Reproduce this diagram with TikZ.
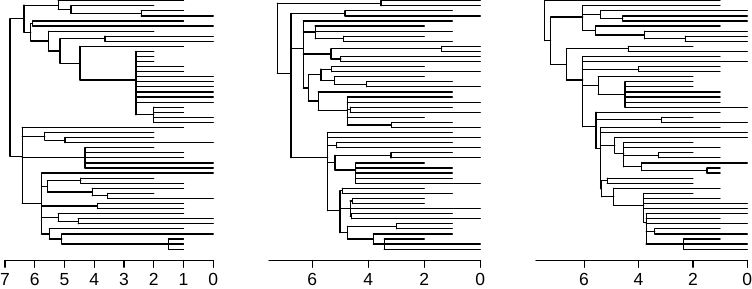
\documentclass[tikz,border=0pt]{standalone}
\usepackage{fontspec}
\setmainfont{Liberation Sans}

\tikzset{
  branch/.style={line width=1.2pt, line cap=round},
  tick label/.style={anchor=base, inner sep=0pt, font=\fontsize{17.5}{17.5}\selectfont}
}
% rows of the time axis (in leaf units)
\newcommand{\axy}{51.24}
\newcommand{\tky}{52.58}
\newcommand{\lby}{56.17}

\begin{document}
\begin{tikzpicture}[branch]
\useasboundingbox (0,0) rectangle (752pt,-289pt);

%left tree: x is time before present, y is the leaf row
\begin{scope}[shift={(213.3pt,-0.7pt)}, x=-29.76pt, y=-5.07pt]
  \foreach \v/\a/\b in {6.83/3.551/30.68, 6.36/0.875/6.227, 5.21/0/1.75, 4.78/1/2.5,
      2.42/2/3, 6.13/4.5/7.953, 6.07/4/5, 5.54/6/9.906, 5.15/7.5/12.31, 3.64/7/8,
      4.48/9/15.625, 2.6/10/22.5, 2/21/24, 6.42/25/39.975, 5.66/26/27.5, 4.98/27/28,
      4.31/29/33, 5.77/34/46, 5.57/35.5/37.75, 4.45/35/36, 4.07/37/38.5, 3.55/38/39,
      3.89/40/41, 5.21/42/43.5, 4.54/43/44, 5.51/45/47, 5.09/46/48, 1.51/47/49}
    \draw (\v,\a) -- (\v,\b);
  \foreach \a/\b/\r in {6.83/6.36/3.551, 6.83/6.42/30.68,
      6.36/5.21/0.875, 6.36/6.13/6.227, 5.21/1/0, 5.21/4.78/1.75,
      4.78/2/1, 4.78/2.42/2.5, 2.42/1/2, 2.42/0/3,
      6.13/6.07/4.5, 6.07/1/4, 6.07/0/5,
      6.13/5.54/7.953, 5.54/2/6, 5.54/5.15/9.906,
      5.15/3.64/7.5, 3.64/0/7, 3.64/0/8,
      5.15/4.48/12.31, 4.48/1/9, 4.48/2.6/15.625,
      2.6/2/10, 2.6/2/11, 2.6/2/12, 2.6/1/13, 2.6/1/14,
      2.6/2/22.5, 2/1/21, 2/1/22, 2/0/23, 2/0/24,
      6.42/1/25, 6.42/5.66/26.75, 5.66/2/26, 5.66/4.98/27.5, 4.98/2/27, 4.98/0/28,
      6.42/4.31/31, 4.31/2/29, 4.31/1/30, 4.31/1/31, 4.31/0/32, 4.31/0/33,
      6.42/5.77/39.975, 5.77/0/34,
      5.77/5.57/36.625, 5.57/4.45/35.5, 4.45/2/35, 4.45/1/36,
      5.57/4.07/37.75, 4.07/1/37, 4.07/3.55/38.5, 3.55/2/38, 3.55/0/39,
      5.77/3.89/40.5, 3.89/1/40, 3.89/1/41,
      5.77/5.21/42.75, 5.21/1/42, 5.21/4.54/43.5, 4.54/0/43, 4.54/0/44,
      5.77/5.51/46, 5.51/1/45, 5.51/5.09/47, 5.09/0/46, 5.09/1.51/48,
      1.51/1/47, 1.51/1/48, 1.51/1/49}
    \draw (\a,\r) -- (\b,\r);
  \foreach \r in {15,...,20}
    \draw (2.6,\r) -- (0,\r);
  %axis
  \draw (7,\axy) -- (0,\axy);
  \foreach \t in {0,...,7} {
    \draw (\t,\axy) -- (\t,\tky);
    \node[tick label] at (\t,\lby) {\t};
  }
\end{scope}

%middle tree
\begin{scope}[shift={(480.3pt,-0.7pt)}, x=-28pt, y=-5.07pt]
  \foreach \v/\a/\b in {7.25/0.5/14.31, 3.55/0/1, 6.76/2.5/30.97, 4.83/2/3,
      6.32/4/17.2125, 5.90/5/7.5, 4.89/7/8, 5.33/9.5/11.5, 1.38/9/10, 4.98/11/12,
      6.14/14.625/19.8, 5.69/13.5/15.75, 5.31/13/14, 5.21/15/16.5, 4.06/16/17,
      5.79/18/21.6, 4.75/19/24.5, 4.65/21/22, 3.17/24/25,
      5.45/26/41.4167, 5.13/28/29, 5.19/30.5/33.4, 3.19/30/31, 4.45/32/36,
      5.01/37.5/45.75, 4.93/37/38, 4.65/39.5/42.5, 4.57/39/40, 4.60/42/43,
      4.74/44.5/47, 2.99/44/45, 3.82/46/48, 3.43/47/49}
    \draw (\v,\a) -- (\v,\b);
  \foreach \a/\b/\r in {7.25/3.55/0.5, 3.55/0/0, 3.55/0/1,
      7.25/6.76/14.31,
      6.76/4.83/2.5, 4.83/1/2, 4.83/0/3,
      6.76/6.32/9.47, 6.32/1/4,
      6.32/5.90/6.1667, 5.90/2/5, 5.90/1/6, 5.90/4.89/7.5, 4.89/2/7, 4.89/1/8,
      6.32/5.33/10.5, 5.33/1.38/9.5, 1.38/0/9, 1.38/0/10,
      5.33/4.98/11.5, 4.98/0/11, 4.98/0/12,
      6.32/6.14/17.2125,
      6.14/5.69/14.625, 5.69/5.31/13.5, 5.31/2/13, 5.31/0/14,
      5.69/5.21/15.75, 5.21/2/15, 5.21/4.06/16.5, 4.06/1/16, 4.06/0/17,
      6.14/5.79/19.8, 5.79/1/18, 5.79/4.75/21.6,
      4.75/1/19, 4.75/0/20, 4.75/4.65/21.5, 4.65/1/21, 4.65/0/22,
      4.75/2/23, 4.75/3.17/24.5, 3.17/1/24, 3.17/0/25,
      6.76/5.45/30.97,
      5.45/1/26, 5.45/0/27, 5.45/5.13/28.5, 5.13/1/28, 5.13/0/29,
      5.45/5.19/31.95, 5.19/3.19/30.5, 3.19/1/30, 3.19/0/31,
      5.19/4.45/33.4, 4.45/2/32, 4.45/1/33, 4.45/1/34, 4.45/1/35, 4.45/0/36,
      5.45/5.01/41.4167,
      5.01/4.93/37.5, 4.93/2/37, 4.93/1/38,
      5.01/4.65/41, 4.65/4.57/39.5, 4.57/2/39, 4.57/2/40, 4.65/0/41,
      4.65/4.60/42.5, 4.60/1/42, 4.60/0/43,
      5.01/4.74/45.75, 4.74/2.99/44.5, 2.99/1/44, 2.99/1/45,
      4.74/3.82/47, 3.82/1/46, 3.82/3.43/48, 3.43/2/47, 3.43/0/48, 3.43/0/49}
    \draw (\a,\r) -- (\b,\r);
  %axis
  \draw (7.55,\axy) -- (0,\axy);
  \foreach \t in {0,2,4,6} {
    \draw (\t,\axy) -- (\t,\tky);
    \node[tick label] at (\t,\lby) {\t};
  }
\end{scope}

%right tree
\begin{scope}[shift={(747.3pt,-0.7pt)}, x=-27.2pt, y=-5.07pt]
  \foreach \v/\a/\b in {7.45/0/7.886, 7.23/3.208/12.563, 6.05/1/5.875, 5.40/2/3.5,
      4.58/3/4, 5.58/5/6.75, 3.78/6/7.5, 2.28/7/8,
      6.65/9.5/15.627, 4.38/9/10, 6.05/11/24.885, 3.99/13/14, 5.48/15/18.5,
      4.50/16/21, 5.56/22/29.154, 3.16/23/24, 5.40/25/37.085, 4.87/27/30.0625,
      4.54/28/32.75, 3.26/30/31, 3.89/32/33.5, 1.48/33/34,
      5.36/35.5/38.67, 5.15/35/36, 4.91/37/40.34, 3.81/38/43.7, 3.72/42/48,
      3.40/45/46, 2.34/47/49}
    \draw (\v,\a) -- (\v,\b);
  \foreach \a/\b/\r in {7.45/1/0, 7.45/7.23/7.886,
      7.23/6.05/3.208, 6.05/1/1,
      6.05/5.40/2.75, 5.40/0/2, 5.40/4.58/3.5, 4.58/0/3, 4.58/0/4,
      6.05/5.58/5.875, 5.58/1/5, 5.58/3.78/6.75, 3.78/0/6,
      3.78/2.28/7.5, 2.28/0/7, 2.28/0/8,
      7.23/6.65/12.563, 6.65/4.38/9.5, 4.38/2/9, 4.38/0/10,
      6.65/6.05/15.627, 6.05/1/11, 6.05/0/12,
      6.05/3.99/13.5, 3.99/1/13, 3.99/1/14,
      6.05/5.48/16.75, 5.48/2/15, 5.48/4.50/18.5,
      4.50/2/16, 4.50/2/17, 4.50/1/18, 4.50/1/19, 4.50/1/20, 4.50/0/21,
      6.05/5.56/24.885, 5.56/1/22, 5.56/3.16/23.5, 3.16/2/23, 3.16/0/24,
      5.56/5.40/29.154, 5.40/1/25, 5.40/0/26,
      5.40/4.87/28.531, 4.87/0/27, 4.87/4.54/30.0625, 4.54/2/28, 4.54/1/29,
      4.54/3.26/30.5, 3.26/2/30, 3.26/1/31,
      4.54/3.89/32.75, 3.89/0/32, 3.89/1.48/33.5, 1.48/1/33, 1.48/1/34,
      5.40/5.36/37.085, 5.36/5.15/35.5, 5.15/2/35, 5.15/2/36,
      5.36/4.91/38.67, 4.91/1/37, 4.91/3.81/40.34,
      3.81/2/38, 3.81/1/39, 3.81/0/40, 3.81/0/41, 3.81/3.72/43.7,
      3.72/0/42, 3.72/1/43, 3.72/0/44, 3.72/3.40/45.5, 3.40/1/45, 3.40/0/46,
      3.72/2.34/48, 2.34/1/47, 2.34/0/48, 2.34/0/49}
    \draw (\a,\r) -- (\b,\r);
  %axis
  \draw (7.77,\axy) -- (0,\axy);
  \foreach \t in {0,2,4,6} {
    \draw (\t,\axy) -- (\t,\tky);
    \node[tick label] at (\t,\lby) {\t};
  }
\end{scope}
\end{tikzpicture}
\end{document}
